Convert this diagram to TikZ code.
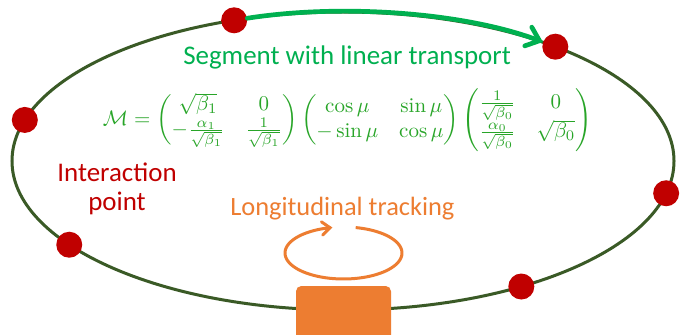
\documentclass[tikz,border=0pt]{standalone}
\usepackage{amsmath}
\usepackage{graphicx}
\usepackage{fontspec}
\newfontfamily\carlito{Carlito}
\usetikzlibrary{arrows.meta}
\definecolor{ringgreen}{RGB}{58,90,38}
\definecolor{ipred}{RGB}{192,0,0}
\definecolor{segmentgreen}{RGB}{0,176,80}
\definecolor{formulagreen}{RGB}{40,165,40}
\definecolor{trackorange}{RGB}{237,125,49}
\tikzset{
  ipdot/.style={circle, fill=ipred, minimum size=19.5pt, inner sep=0pt},
  label text/.style={font=\carlito\fontsize{20.2pt}{21.75pt}\selectfont, inner sep=0pt},
}
\begin{document}
\begin{tikzpicture}[x=0.75pt, y=-0.75pt]
  \clip (0,0) rectangle (681,335);
  \fill[white] (0,0) rectangle (681,335);

  % the ring
  \coordinate (c) at (343,161);
  \draw[ringgreen, line width=2.25pt] (c) ellipse [x radius=248.25pt, y radius=111.75pt];

  % interaction points on the ring
  \begin{scope}[shift={(343,161)}]
    \node[ipdot] (p1) at (-109.2:331 and 149) {};
    \node[ipdot] (p2) at (-50.1:331 and 149) {};
    \node[ipdot] (p3) at (12.5:331 and 149) {};
    \node[ipdot] (p4) at (57.4:331 and 149) {};
    \node[ipdot] (p5) at (145.8:331 and 149) {};
    \node[ipdot] (p6) at (196:331 and 149) {};
  \end{scope}

  % linear transport between two interaction points
  \draw[segmentgreen, line width=3.5pt, line cap=round,
        -{Straight Barb[length=9pt, width=15pt, line cap=round]}]
    (p1) .. controls (344.1,3.1) and (466.0,13.1) .. (p2);

  \node[label text, text=segmentgreen, anchor=base west] (seg) at (183,64.3)
    {Segment with linear transport};

  \node[formulagreen, inner sep=0pt] (map) at (347.5,120) {\resizebox{366.75pt}{!}{$\displaystyle
    \mathcal{M}=
    \begin{pmatrix} \sqrt{\beta_1} & 0\\ -\frac{\alpha_1}{\sqrt{\beta_1}} & \frac{1}{\sqrt{\beta_1}} \end{pmatrix}
    \begin{pmatrix} \cos\mu & \sin\mu\\ -\sin\mu & \cos\mu \end{pmatrix}
    \begin{pmatrix} \frac{1}{\sqrt{\beta_0}} & 0\\ \frac{\alpha_0}{\sqrt{\beta_0}} & \sqrt{\beta_0} \end{pmatrix}$}};

  \node[label text, text=ipred, align=center, anchor=north] (ip) at (117,163)
    {Interaction\\point};

  % longitudinal tracking element
  \node[label text, text=trackorange, anchor=base west,
        font=\carlito\fontsize{19.8pt}{22pt}\selectfont] (lt) at (230,215)
    {Longitudinal tracking};
  \draw[trackorange, line width=2.25pt,
        -{Straight Barb[length=6pt, width=10pt, line cap=round]}]
    plot[domain=-78:259, samples=90, smooth] ({343.5+58.5*cos(\x)},{253+26*sin(\x)});
  \node[fill=trackorange, rounded corners=4pt, minimum width=71.25pt,
        minimum height=45pt, inner sep=0pt] (box) at (343.5,316) {};
\end{tikzpicture}
\end{document}
